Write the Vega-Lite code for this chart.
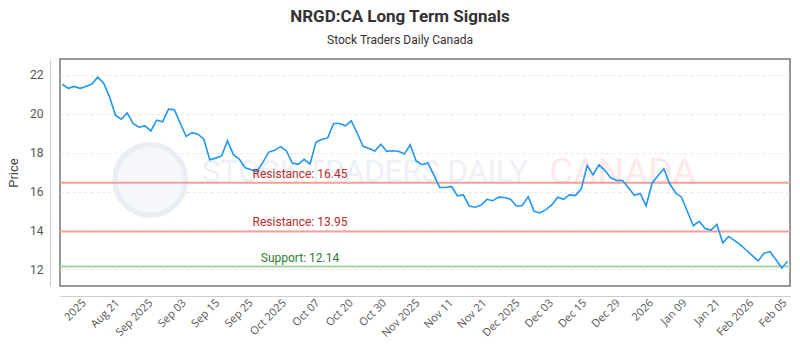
{
  "$schema": "https://vega.github.io/schema/vega-lite/v6.json",
  "autosize": {"type": "none"},
  "width": 730,
  "height": 227,
  "padding": {"left": 60, "top": 59, "right": 10, "bottom": 64},
  "title": {
    "text": "NRGD:CA Long Term Signals",
    "subtitle": "Stock Traders Daily Canada",
    "anchor": "middle",
    "dx": -25,
    "offset": 12,
    "font": "Roboto",
    "fontSize": 17,
    "fontWeight": "bold",
    "color": "#333333",
    "subtitleFont": "Roboto",
    "subtitleFontSize": 12,
    "subtitleColor": "#333333",
    "subtitlePadding": 9
  },
  "datasets": {
    "prices": [
      {"i":0,"price":21.52},{"i":1,"price":21.31},{"i":2,"price":21.41},{"i":3,"price":21.31},{"i":4,"price":21.40},
      {"i":5,"price":21.53},{"i":6,"price":21.88},{"i":7,"price":21.57},{"i":8,"price":20.88},{"i":9,"price":19.93},
      {"i":10,"price":19.72},{"i":11,"price":20.05},{"i":12,"price":19.50},{"i":13,"price":19.31},{"i":14,"price":19.38},
      {"i":15,"price":19.12},{"i":16,"price":19.67},{"i":17,"price":19.59},{"i":18,"price":20.24},{"i":19,"price":20.21},
      {"i":20,"price":19.50},{"i":21,"price":18.84},{"i":22,"price":19.03},{"i":23,"price":18.95},{"i":24,"price":18.69},
      {"i":25,"price":17.64},{"i":26,"price":17.72},{"i":27,"price":17.83},{"i":28,"price":18.62},{"i":29,"price":17.90},
      {"i":30,"price":17.67},{"i":31,"price":17.22},{"i":32,"price":17.12},{"i":33,"price":17.03},{"i":34,"price":17.50},
      {"i":35,"price":18.03},{"i":36,"price":18.12},{"i":37,"price":18.31},{"i":38,"price":18.09},{"i":39,"price":17.47},
      {"i":40,"price":17.40},{"i":41,"price":17.66},{"i":42,"price":17.41},{"i":43,"price":18.53},{"i":44,"price":18.69},
      {"i":45,"price":18.76},{"i":46,"price":19.50},{"i":47,"price":19.50},{"i":48,"price":19.38},{"i":49,"price":19.64},
      {"i":50,"price":19.00},{"i":51,"price":18.33},{"i":52,"price":18.22},{"i":53,"price":18.09},{"i":54,"price":18.43},
      {"i":55,"price":18.07},{"i":56,"price":18.10},{"i":57,"price":18.07},{"i":58,"price":17.93},{"i":59,"price":18.40},
      {"i":60,"price":17.57},{"i":61,"price":17.38},{"i":62,"price":17.47},{"i":63,"price":16.84},{"i":64,"price":16.21},
      {"i":65,"price":16.21},{"i":66,"price":16.26},{"i":67,"price":15.78},{"i":68,"price":15.83},{"i":69,"price":15.26},
      {"i":70,"price":15.19},{"i":71,"price":15.29},{"i":72,"price":15.60},{"i":73,"price":15.53},{"i":74,"price":15.71},
      {"i":75,"price":15.69},{"i":76,"price":15.60},{"i":77,"price":15.26},{"i":78,"price":15.28},{"i":79,"price":15.74},
      {"i":80,"price":14.98},{"i":81,"price":14.90},{"i":82,"price":15.07},{"i":83,"price":15.31},{"i":84,"price":15.71},
      {"i":85,"price":15.60},{"i":86,"price":15.83},{"i":87,"price":15.79},{"i":88,"price":16.14},{"i":89,"price":17.34},
      {"i":90,"price":16.86},{"i":91,"price":17.38},{"i":92,"price":17.09},{"i":93,"price":16.71},{"i":94,"price":16.57},
      {"i":95,"price":16.57},{"i":96,"price":16.19},{"i":97,"price":15.81},{"i":98,"price":15.90},{"i":99,"price":15.26},
      {"i":100,"price":16.43},{"i":101,"price":16.81},{"i":102,"price":17.17},{"i":103,"price":16.40},{"i":104,"price":15.93},
      {"i":105,"price":15.71},{"i":106,"price":14.97},{"i":107,"price":14.24},{"i":108,"price":14.47},{"i":109,"price":14.10},
      {"i":110,"price":14.02},{"i":111,"price":14.31},{"i":112,"price":13.36},{"i":113,"price":13.69},{"i":114,"price":13.47},
      {"i":115,"price":13.26},{"i":116,"price":12.98},{"i":117,"price":12.70},{"i":118,"price":12.43},{"i":119,"price":12.83},
      {"i":120,"price":12.91},{"i":121,"price":12.50},{"i":122,"price":12.07},{"i":123,"price":12.41}
    ],
    "levels": [
      {"label": "Resistance: 16.45", "level": 16.45, "kind": "Resistance"},
      {"label": "Resistance: 13.95", "level": 13.95, "kind": "Resistance"},
      {"label": "Support: 12.14", "level": 12.14, "kind": "Support"}
    ],
    "watermark": [
      {"text": "STOCK TRADERS DAILY", "kind": "brand"},
      {"text": "CANADA", "kind": "country"}
    ]
  },
  "layer": [
    {
      "data": {"name": "watermark"},
      "mark": {"type": "text", "font": "Roboto", "fontWeight": "normal", "baseline": "middle", "align": "center"},
      "encoding": {
        "x": {"datum": 51.3, "type": "quantitative"},
        "y": {"datum": 16.95, "type": "quantitative"},
        "text": {"field": "text"},
        "size": {"field": "kind", "type": "nominal", "scale": {"type": "ordinal", "domain": ["brand", "country"], "range": [31, 37]}, "legend": null},
        "color": {"field": "kind", "type": "nominal", "scale": {"domain": ["brand", "country"], "range": ["#edf0f5", "#fde9e9"]}, "legend": null},
        "xOffset": {"field": "kind", "type": "nominal", "scale": {"type": "point", "padding": 0, "domain": ["brand", "country"], "range": [0, 258]}}
      }
    },
    {
      "data": {"values": [{"logo": "circle"}]},
      "mark": {"type": "point", "filled": true, "size": 5000, "fill": "#f5f7fa", "stroke": "#eaeef4", "strokeWidth": 5, "opacity": 1},
      "encoding": {
        "x": {"datum": 14.9, "type": "quantitative"},
        "y": {"datum": 16.6, "type": "quantitative"}
      }
    },
    {
      "data": {"name": "levels"},
      "mark": {"type": "rule", "strokeWidth": 2},
      "encoding": {
        "y": {"field": "level", "type": "quantitative"},
        "color": {"field": "kind", "type": "nominal", "scale": {"domain": ["Resistance", "Support"], "range": ["#f5a09b", "#a3d4a3"]}, "legend": null}
      }
    },
    {
      "data": {"name": "prices"},
      "mark": {"type": "line", "color": "#2196f3", "strokeWidth": 1.6},
      "encoding": {
        "x": {
          "field": "i",
          "type": "quantitative",
          "scale": {"domain": [-0.4, 123.4], "nice": false, "zero": false},
          "axis": {
            "title": null,
            "values": [3.68, 9.34, 15.0, 20.66, 26.32, 31.98, 37.64, 43.3, 48.96, 54.62, 60.28, 65.94, 71.6, 77.26, 82.92, 88.58, 94.24, 99.9, 105.56, 111.22, 116.88, 122.54],
            "tickCount": 40,
            "labelExpr": "['2025','Aug 21','Sep 2025','Sep 03','Sep 15','Sep 25','Oct 2025','Oct 07','Oct 20','Oct 30','Nov 2025','Nov 11','Nov 21','Dec 2025','Dec 03','Dec 15','Dec 29','2026','Jan 09','Jan 21','Feb 2026','Feb 05'][round((datum.value - 3.68) / 5.66)]",
            "labelAngle": -45,
            "labelAlign": "right",
            "labelBaseline": "middle",
            "labelFont": "Open Sans",
            "labelFontSize": 11,
            "labelColor": "#555555",
            "labelPadding": 5,
            "labelOverlap": false,
            "labelFlush": false,
            "labelBound": false,
            "ticks": false,
            "grid": false,
            "offset": 10,
            "domainColor": "#cccccc"
          }
        },
        "y": {
          "field": "price",
          "type": "quantitative",
          "scale": {"domain": [11.14, 22.82], "nice": false, "zero": false},
          "axis": {
            "title": "Price",
            "titleFont": "Roboto",
            "titleFontSize": 13,
            "titleFontWeight": "normal",
            "titleColor": "#444444",
            "titlePadding": 9,
            "values": [12, 14, 16, 18, 20, 22],
            "labelFont": "Roboto",
            "labelFontSize": 12,
            "labelColor": "#555555",
            "labelPadding": 7,
            "ticks": false,
            "offset": 10,
            "domainColor": "#cccccc",
            "grid": true,
            "gridDash": [3, 3],
            "gridColor": "#e6e6e6"
          }
        }
      }
    },
    {
      "data": {"name": "levels"},
      "mark": {"type": "text", "font": "Roboto", "fontSize": 12, "dy": -9, "align": "center", "baseline": "middle"},
      "encoding": {
        "x": {"datum": 40.3, "type": "quantitative"},
        "y": {"field": "level", "type": "quantitative"},
        "text": {"field": "label"},
        "color": {"field": "kind", "type": "nominal", "scale": {"domain": ["Resistance", "Support"], "range": ["#b52b2b", "#2e7d32"]}, "legend": null}
      }
    }
  ],
  "resolve": {"scale": {"color": "independent"}},
  "config": {
    "view": {"stroke": "#777777", "strokeWidth": 1.5},
    "background": "white",
    "axisX": {"labelOverlap": false, "labelBound": false}
  }
}
